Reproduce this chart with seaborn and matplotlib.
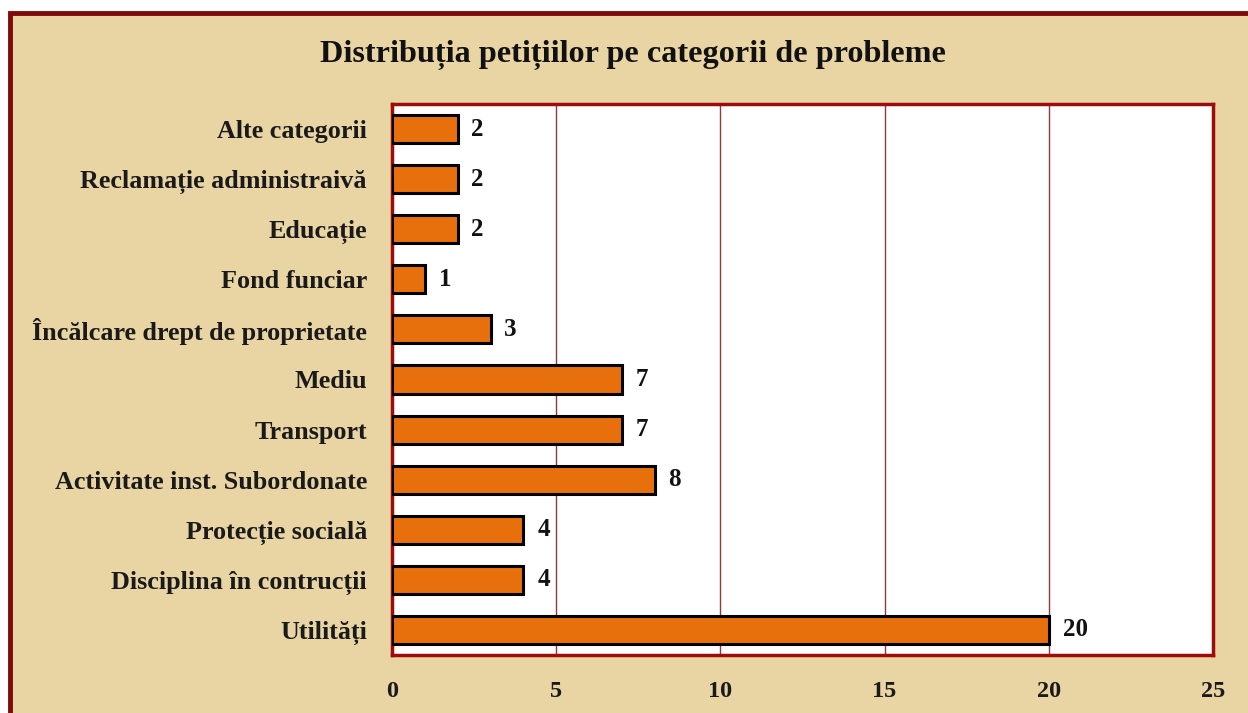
import matplotlib
matplotlib.use("Agg")
import matplotlib.pyplot as plt
import seaborn as sns
from matplotlib.patches import Rectangle

categories = [
    "Alte categorii",
    "Reclamație administraivă",
    "Educație",
    "Fond funciar",
    "Încălcare drept de proprietate",
    "Mediu",
    "Transport",
    "Activitate inst. Subordonate",
    "Protecție socială",
    "Disciplina în contrucții",
    "Utilități",
]
values = [2, 2, 2, 1, 3, 7, 7, 8, 4, 4, 20]
x_ticks = [0, 5, 10, 15, 20, 25]
title = "Distribuția petițiilor pe categorii de probleme"

sns.set_theme(style="white")
plt.rcParams["font.family"] = ["Liberation Serif", "DejaVu Serif"]
plt.rcParams["font.weight"] = "bold"

parchment = "#E9D4A4"
border_red = "#7E0A0A"
bar_color = "#E8700C"

fig = plt.figure(figsize=(12.48, 7.13), dpi=100)
fig.patch.set_facecolor("white")

W, H = 1248, 713
panel = Rectangle((10 / W, -0.05), 1.2, 1 - 13 / H + 0.05,
                  transform=fig.transFigure, facecolor=parchment,
                  edgecolor=border_red, linewidth=3.5, zorder=-10)
fig.patches.append(panel)

ax = fig.add_axes([392 / W, 1 - 655 / H, (1213 - 392) / W, (655 - 104) / H])
ax.set_zorder(5)
ax.set_facecolor("white")

sns.barplot(x=values, y=categories, color=bar_color, edgecolor="black",
            linewidth=2.2, width=0.56, saturation=1, ax=ax, zorder=3)

ax.set_xlim(0, 25)
ax.set_xticks(x_ticks)
ax.set_xticklabels([str(t) for t in x_ticks], fontsize=17.5, fontweight="bold",
                   color="#1a1a1a")
ax.tick_params(axis="x", pad=19, length=0)
ax.tick_params(axis="y", pad=18, length=0)
for lbl in ax.get_yticklabels():
    lbl.set_fontsize(18.8)
    lbl.set_fontweight("bold")
    lbl.set_color("#1a1a1a")
ax.set_xlabel("")
ax.set_ylabel("")

ax.grid(axis="x", color="#8C3A3A", linewidth=1.0, zorder=1)
ax.grid(axis="y", visible=False)
ax.set_axisbelow(True)
for sp in ax.spines.values():
    sp.set_visible(True)
    sp.set_color("#9E0B0B")
    sp.set_linewidth(2.5)

for i, v in enumerate(values):
    ax.text(v + 0.42, i, str(v), va="center", ha="left",
            fontsize=18, fontweight="bold", color="#111111", zorder=5)

fig.text(633 / W, 1 - 55 / H, title, ha="center", va="center",
         fontsize=23.2, fontweight="bold", color="#111111")

fig.savefig("out.png", dpi=100, facecolor=fig.get_facecolor())
